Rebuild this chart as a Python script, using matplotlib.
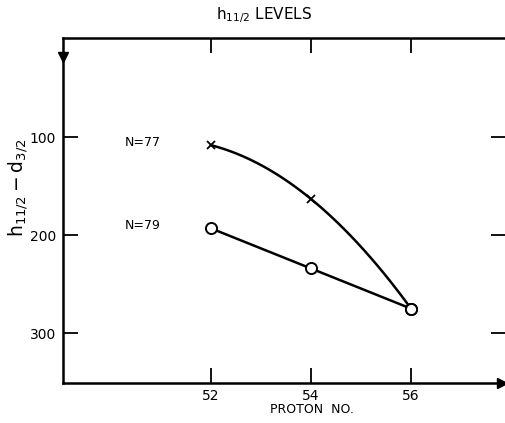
import numpy as np
import matplotlib
matplotlib.use("Agg")
import matplotlib.pyplot as plt

# values
proton = [52, 54, 56]
n77 = [108, 163, 275]
n79 = [193, 234, 275]
n77_markers = ['x', 'x', 'o']
n79_markers = ['o', 'o', 'o']
yticks = [100, 200, 300]

plt.rcParams['font.family'] = 'DejaVu Sans'

fig = plt.figure(figsize=(5.06, 4.23), dpi=100)
ax = fig.add_axes([63 / 506, 1 - 383 / 423, 443 / 506, 345 / 423])

# smooth hand-drawn style curves through the three points of each series
for vals in (n77, n79):
    coef = np.polyfit(proton, vals, 2)
    xs = np.linspace(proton[0], proton[-1], 100)
    ax.plot(xs, np.polyval(coef, xs), color='black', lw=1.8, zorder=2)

for vals, marks in ((n77, n77_markers), (n79, n79_markers)):
    for x, y, m in zip(proton, vals, marks):
        if m == 'x':
            ax.plot(x, y, marker='x', ms=6, mew=1.3, color='black', zorder=3)
        else:
            ax.plot(x, y, marker='o', ms=8, mew=1.4, mfc='white', mec='black', zorder=3)

ax.text(50.64, n77[0] - 3, 'N=77', fontsize=9, ha='center', va='center')
ax.text(50.64, n79[0] - 3, 'N=79', fontsize=9, ha='center', va='center')

ax.set_xlim(49.04, 57.9)
ax.set_ylim(351, -1.5)
ax.set_xticks(proton)
ax.set_yticks(yticks)
ax.tick_params(axis='both', direction='in', length=10.5, width=1.3, labelsize=10,
               top=True, right=True, pad=5)
ax.tick_params(axis='x', pad=4)

for side in ('left', 'bottom', 'top'):
    ax.spines[side].set_linewidth(1.8)
ax.spines['right'].set_visible(False)

# axis arrows
ax.plot(0, 0.945, marker='v', ms=7, color='black', transform=ax.transAxes, clip_on=False)
ax.plot(0.99, 0, marker='>', ms=7, color='black', transform=ax.transAxes, clip_on=False)

fig.text(312 / 506, 1 - 409 / 423, 'PROTON  NO.', fontsize=9, ha='center', va='center')
fig.text(18 / 506, 1 - 188 / 423, r'$\mathregular{h_{11/2} - d_{3/2}}$', fontsize=13.5,
         rotation=90, ha='center', va='center')
fig.text(264 / 506, 1 - 15 / 423, r'$\mathregular{h_{11/2}}$ LEVELS', fontsize=11,
         ha='center', va='center')

fig.savefig('out.png', dpi=100)
